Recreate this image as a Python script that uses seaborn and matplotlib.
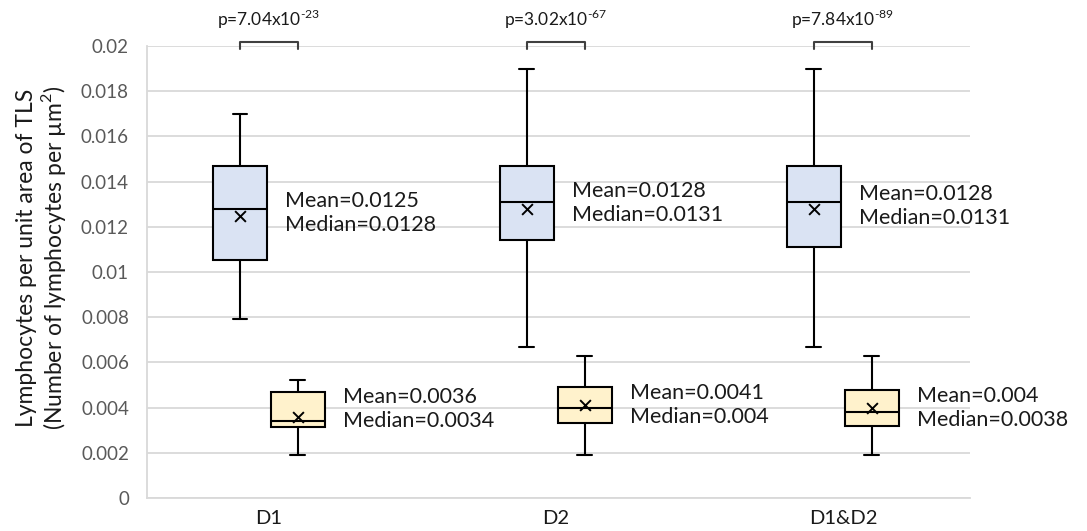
import matplotlib
matplotlib.use("Agg")
import matplotlib.pyplot as plt
import seaborn as sns
import numpy as np

# Categories and the two compared series (upper boxes = series A, lower boxes = series B)
groups = ["D1", "D2", "D1&D2"]

a_whislo = [0.0079, 0.0067, 0.0067]
a_q1 = [0.01055, 0.0114, 0.0111]
a_med = [0.0128, 0.0131, 0.0131]
a_q3 = [0.0147, 0.0147, 0.0147]
a_whishi = [0.0170, 0.0190, 0.0190]
a_mean = [0.0125, 0.0128, 0.0128]

b_whislo = [0.0019, 0.0019, 0.0019]
b_q1 = [0.00315, 0.0033, 0.0032]
b_med = [0.0034, 0.0040, 0.0038]
b_q3 = [0.0047, 0.0049, 0.0048]
b_whishi = [0.0052, 0.0063, 0.0063]
b_mean = [0.0036, 0.0041, 0.0040]

p_mantissa = ["7.04", "3.02", "7.84"]
p_exponent = ["-23", "-67", "-89"]

y_ticks = [0, 0.002, 0.004, 0.006, 0.008, 0.01, 0.012, 0.014, 0.016, 0.018, 0.02]

sns.set_theme(style="whitegrid")
plt.rcParams["font.family"] = ["Lato", "DejaVu Sans"]
plt.rcParams["mathtext.fontset"] = "custom"
plt.rcParams["mathtext.rm"] = "Lato"

fig = plt.figure(figsize=(10.87, 5.31), dpi=100)
ax = fig.add_axes([147 / 1087, 1 - 498 / 531, (970 - 147) / 1087, (498 - 46) / 531])

offset = 0.101
box_w = 0.188
x = np.arange(len(groups))
pos_a = x - offset
pos_b = x + offset


def make_stats(lo, q1, med, q3, hi, mean):
    return [dict(whislo=l, q1=a, med=m, q3=b, whishi=h, mean=mu, fliers=[])
            for l, a, m, b, h, mu in zip(lo, q1, med, q3, hi, mean)]


line_kw = dict(color="black", linewidth=1.5)
for stats, pos, fill in [
    (make_stats(a_whislo, a_q1, a_med, a_q3, a_whishi, a_mean), pos_a, "#DAE3F3"),
    (make_stats(b_whislo, b_q1, b_med, b_q3, b_whishi, b_mean), pos_b, "#FFF2CC"),
]:
    ax.bxp(stats, positions=pos, widths=box_w, patch_artist=True,
           showfliers=False, showmeans=False, manage_ticks=False,
           capwidths=0.052,
           boxprops=dict(facecolor=fill, edgecolor="black", linewidth=1.5),
           medianprops=line_kw, whiskerprops=line_kw, capprops=line_kw,
           zorder=3)

# mean markers
sns.scatterplot(x=np.concatenate([pos_a, pos_b]), y=a_mean + b_mean,
                marker="x", color="black", s=60, linewidth=1.4,
                ax=ax, legend=False, zorder=5)

# mean / median labels next to each box
for pos, q1, q3, mean, med in [(pos_a, a_q1, a_q3, a_mean, a_med),
                               (pos_b, b_q1, b_q3, b_mean, b_med)]:
    for p, lo, hi, mu, md in zip(pos, q1, q3, mean, med):
        ax.text(p + box_w / 2 + 0.063, (lo + hi) / 2,
                f"Mean={mu:g}\nMedian={md:g}", ha="left", va="center",
                fontsize=15.5, color="#1a1a1a", linespacing=1.25,
                clip_on=False, zorder=6)

# significance brackets
top, leg = 0.02018, 0.01987
for xa, xb, m, e in zip(pos_a, pos_b, p_mantissa, p_exponent):
    ax.plot([xa, xa, xb, xb], [leg, top, top, leg], color="#404040",
            linewidth=1.5, clip_on=False, zorder=6)
    ax.text((xa + xb) / 2, 0.02065, f"p={m}x10$^{{\\text{{{e}}}}}$",
            ha="center", va="bottom", fontsize=12.5, color="#1a1a1a",
            clip_on=False)

ax.set_xlim(-0.425, 2.443)
ax.set_ylim(0, 0.02)
ax.set_yticks(y_ticks)
ax.set_yticklabels([f"{t:g}" for t in y_ticks])
ax.set_xticks(x)
ax.set_xticklabels(groups)
ax.tick_params(axis="y", length=0, pad=13, labelsize=13.5, labelcolor="#595959")
ax.tick_params(axis="x", length=0, pad=9, labelsize=14.5, labelcolor="#1a1a1a")
ax.grid(axis="y", color="#D9D9D9", linewidth=1.3)
ax.grid(axis="x", visible=False)
ax.set_axisbelow(True)
for side in ["top", "right"]:
    ax.spines[side].set_visible(False)
for side in ["left", "bottom"]:
    ax.spines[side].set_color("#D9D9D9")
    ax.spines[side].set_linewidth(1.3)

fig.text(42 / 1087, 1 - 258 / 531,
         "Lymphocytes per unit area of TLS\n(Number of lymphocytes per µm$^{\\mathregular{2}}$)",
         rotation=90, ha="center", va="center", multialignment="center",
         fontsize=16.5, color="#1a1a1a", linespacing=1.1)

fig.savefig("out.png", dpi=100, facecolor="white")
